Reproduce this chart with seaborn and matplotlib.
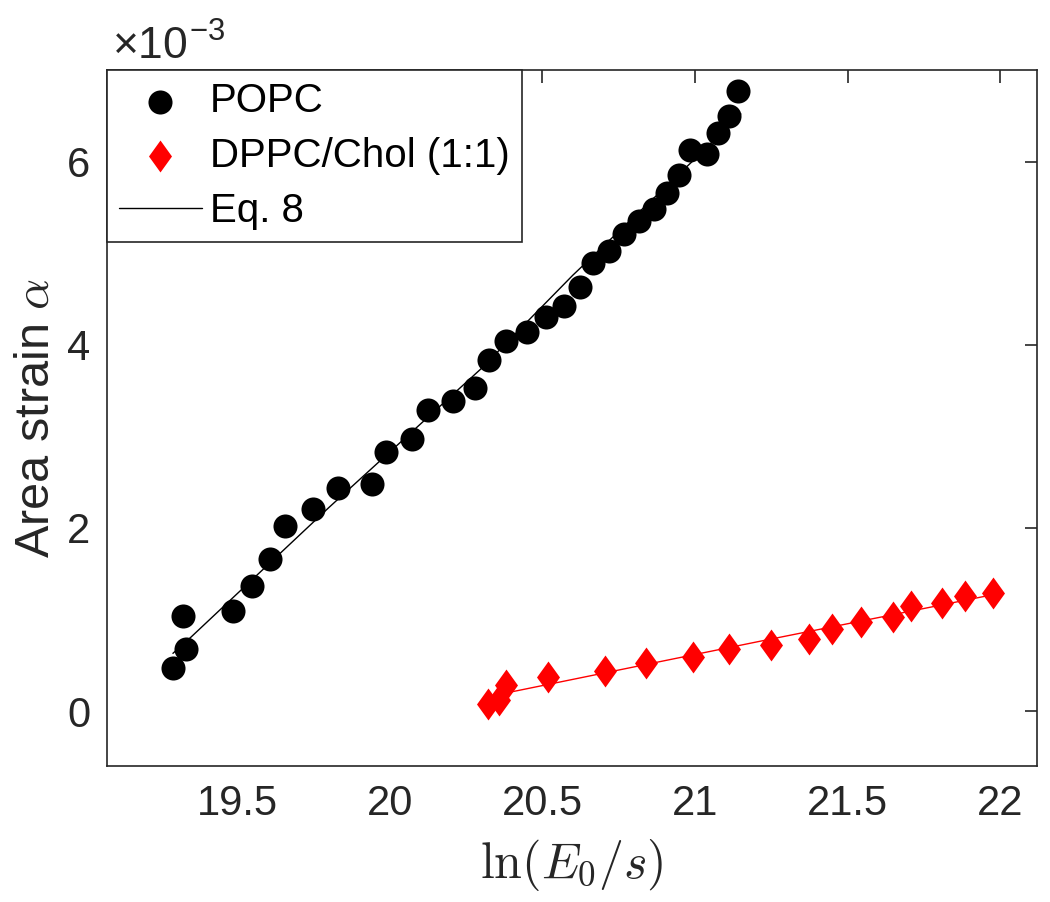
import matplotlib
matplotlib.use("Agg")
import matplotlib.pyplot as plt
from matplotlib.path import Path
import numpy as np
import seaborn as sns

# POPC data (x = ln(E0/s), y = area strain in units of 1e-3)
popc_x = [19.289, 19.332, 19.324, 19.488, 19.548, 19.608, 19.658, 19.750, 19.832,
          19.941, 19.988, 20.073, 20.125, 20.206, 20.280, 20.324, 20.382, 20.451,
          20.512, 20.572, 20.622, 20.665, 20.717, 20.766, 20.815, 20.864, 20.908,
          20.948, 20.982, 21.039, 21.074, 21.110, 21.141]
popc_y = [0.466, 0.677, 1.040, 1.092, 1.365, 1.663, 2.020, 2.209, 2.431,
          2.478, 2.828, 2.973, 3.283, 3.384, 3.523, 3.829, 4.039, 4.141,
          4.298, 4.421, 4.632, 4.894, 5.025, 5.204, 5.353, 5.480, 5.652,
          5.852, 6.124, 6.088, 6.307, 6.496, 6.769]

# DPPC/Chol (1:1) data
dppc_x = [20.323, 20.359, 20.381, 20.517, 20.706, 20.840, 20.993, 21.110, 21.250,
          21.372, 21.449, 21.544, 21.647, 21.708, 21.809, 21.885, 21.975]
dppc_y = [0.076, 0.120, 0.284, 0.374, 0.437, 0.527, 0.593, 0.680, 0.721,
          0.783, 0.895, 0.972, 1.023, 1.146, 1.176, 1.255, 1.285]

# Eq. 8 curves
fit_popc_x = [19.29, 19.35, 19.80, 20.30, 20.60, 21.00, 21.15]
fit_popc_y = [0.63, 0.81, 2.22, 3.74, 4.76, 6.03, 6.52]
fit_dppc_x = [20.33, 20.40, 21.21, 21.99]
fit_dppc_y = [0.16, 0.21, 0.76, 1.28]

sns.set_style("white")
plt.rcParams["font.family"] = ["Liberation Sans", "DejaVu Sans"]
plt.rcParams["mathtext.fontset"] = "cm"

axcol = "#262626"
fig = plt.figure(figsize=(10.5, 9.02), dpi=100)
ax = fig.add_axes([0.1019, 0.1508, 0.8857, 0.7716])

diamond = Path([(0, 1), (0.72, 0), (0, -1), (-0.72, 0), (0, 1)])

sns.scatterplot(x=popc_x, y=popc_y, color="black", marker="o", s=300,
                linewidth=0, ax=ax, label="POPC", zorder=3)
sns.scatterplot(x=dppc_x, y=dppc_y, color="red", marker=diamond, s=529,
                linewidth=0, ax=ax, label="DPPC/Chol (1:1)", zorder=3)
sns.lineplot(x=fit_popc_x, y=fit_popc_y, color="black", linewidth=1.0,
             sort=False, estimator=None, ax=ax, label="Eq. 8", zorder=4)
sns.lineplot(x=fit_dppc_x, y=fit_dppc_y, color="red", linewidth=1.0,
             sort=False, estimator=None, ax=ax, legend=False, zorder=4)

ax.set_xlim(19.074, 22.12)
ax.set_ylim(-0.6, 7.0)
ax.set_xticks([19.5, 20, 20.5, 21, 21.5, 22])
ax.set_xticklabels(["19.5", "20", "20.5", "21", "21.5", "22"])
ax.set_yticks([0, 2, 4, 6])
ax.set_yticklabels(["0", "2", "4", "6"])

for sp in ax.spines.values():
    sp.set_visible(True)
    sp.set_color(axcol)
    sp.set_linewidth(1.2)
ax.tick_params(direction="in", length=9, width=1.2, color=axcol,
               labelcolor=axcol, labelsize=30, top=True, right=True)
ax.tick_params(axis="x", pad=13)
ax.tick_params(axis="y", pad=12)

ax.set_xlabel(r"$\ln(E_0/s)$", fontsize=36, color=axcol, labelpad=9)
ax.set_ylabel(r"Area strain $\alpha$", fontsize=35, color=axcol, labelpad=6)

ax.text(0.005, 1.004, "×10$^{\\mathregular{-3}}$", transform=ax.transAxes,
        fontsize=32, color=axcol, ha="left", va="bottom")

leg = ax.legend(loc="upper left", bbox_to_anchor=(0, 1), borderaxespad=0,
                fontsize=29, frameon=True, fancybox=False, framealpha=1,
                borderpad=0.3, handletextpad=0.2, handlelength=2.05,
                labelspacing=0.42)
leg.get_frame().set_edgecolor(axcol)
leg.get_frame().set_linewidth(1.2)
for t in leg.get_texts():
    t.set_color("black")

fig.savefig("out.png", dpi=100)
